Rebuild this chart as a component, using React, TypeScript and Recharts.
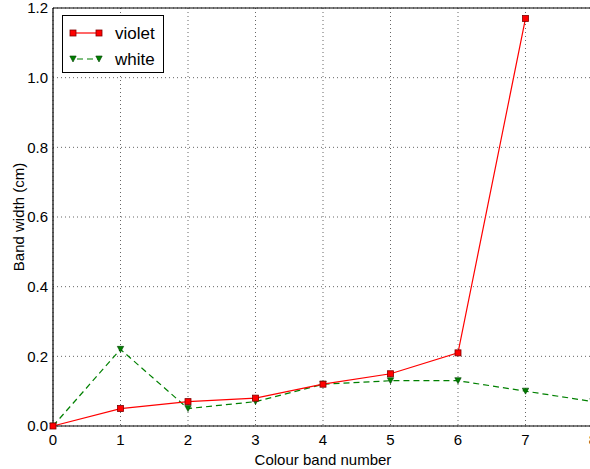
import React from "react";
import { LineChart, Line, XAxis, YAxis, CartesianGrid, ReferenceLine } from "recharts";

const bandNumbers = [0, 1, 2, 3, 4, 5, 6, 7, 8];
const violetWidths: (number | null)[] = [0, 0.05, 0.07, 0.08, 0.12, 0.15, 0.21, 1.17, null];
const whiteWidths = [0, 0.22, 0.05, 0.07, 0.12, 0.13, 0.13, 0.1, 0.07];
const xTicks = [0, 1, 2, 3, 4, 5, 6, 7, 8];
const yTicks = [0, 0.2, 0.4, 0.6, 0.8, 1.0, 1.2];

const data = bandNumbers.map((x, i) => ({ x, violet: violetWidths[i], white: whiteWidths[i] }));

const FONT = "'Liberation Sans', Arial, Helvetica, sans-serif";
const RED = "#ff0000";
const GREEN = "#008000";

const SquareDot = (props: any) => {
  const { cx, cy, index } = props;
  if (cx == null || cy == null || props.value == null) return <g key={`s${index}`} />;
  return <rect key={`s${index}`} x={cx - 3} y={cy - 3} width={6} height={6} fill={RED} stroke="#800000" strokeWidth={0.8} />;
};

const TriDot = (props: any) => {
  const { cx, cy, index } = props;
  if (cx == null || cy == null) return <g key={`t${index}`} />;
  return (
    <polygon
      key={`t${index}`}
      points={`${cx - 3.2},${cy - 3} ${cx + 3.2},${cy - 3} ${cx},${cy + 3}`}
      fill={GREEN}
      stroke="#004000"
      strokeWidth={0.6}
    />
  );
};

export default function App() {
  return (
    <div style={{ position: "absolute", left: 0, top: 0, width: 590, height: 469, overflow: "hidden", background: "#fff" }}>
      <LineChart width={600} height={469} data={data} margin={{ top: 8, right: 7, left: 0, bottom: 0 }}>
        <CartesianGrid stroke="#666" strokeWidth={1} strokeDasharray="1 3" />
        <XAxis
          dataKey="x"
          type="number"
          domain={[0, 8]}
          ticks={xTicks}
          interval={0}
          height={43}
          tickSize={0}
          tickMargin={8}
          tickLine={false}
          axisLine={{ stroke: "#000", strokeWidth: 1.2 }}
          tick={{ fill: "#000", fontSize: 15, fontFamily: FONT }}
          label={{ value: "Colour band number", position: "insideBottom", offset: 4, fill: "#000", fontSize: 15, fontFamily: FONT }}
        />
        <YAxis
          type="number"
          domain={[0, 1.2]}
          ticks={yTicks}
          interval={0}
          width={53}
          tickSize={0}
          tickMargin={5}
          tickLine={false}
          axisLine={{ stroke: "#000", strokeWidth: 1.2 }}
          tickFormatter={(v: number) => v.toFixed(1)}
          tick={{ fill: "#000", fontSize: 15, fontFamily: FONT }}
          label={{ value: "Band width (cm)", angle: -90, position: "center", dx: -8, fill: "#000", fontSize: 15, fontFamily: FONT }}
        />
        <ReferenceLine y={1.2} stroke="#000" strokeWidth={1.2} />
        <ReferenceLine x={8} stroke="#000" strokeWidth={1.2} />
        <Line
          dataKey="white"
          stroke={GREEN}
          strokeWidth={1.2}
          strokeDasharray="6 4"
          dot={<TriDot />}
          isAnimationActive={false}
        />
        <Line
          dataKey="violet"
          stroke={RED}
          strokeWidth={1.2}
          dot={<SquareDot />}
          isAnimationActive={false}
          connectNulls={false}
        />
      </LineChart>
      <div style={{ position: "absolute", left: 62, top: 15 }}>
        <svg width={102} height={58}>
          <rect x={0.5} y={0.5} width={101} height={57} fill="#fff" stroke="#000" strokeWidth={1} />
          <line x1={11} y1={18} x2={37} y2={18} stroke={RED} strokeWidth={1.2} />
          <rect x={8} y={15} width={6} height={6} fill={RED} stroke="#800000" strokeWidth={0.8} />
          <rect x={34} y={15} width={6} height={6} fill={RED} stroke="#800000" strokeWidth={0.8} />
          <text x={53} y={24} fontSize={17} fontFamily={FONT} fill="#000">violet</text>
          <line x1={11} y1={44} x2={37} y2={44} stroke={GREEN} strokeWidth={1.2} strokeDasharray="6 4" strokeDashoffset={-4} />
          <polygon points="7.8,41 14.2,41 11,47" fill={GREEN} stroke="#004000" strokeWidth={0.6} />
          <polygon points="33.8,41 40.2,41 37,47" fill={GREEN} stroke="#004000" strokeWidth={0.6} />
          <text x={53} y={50} fontSize={17} fontFamily={FONT} fill="#000">white</text>
        </svg>
      </div>
    </div>
  );
}
